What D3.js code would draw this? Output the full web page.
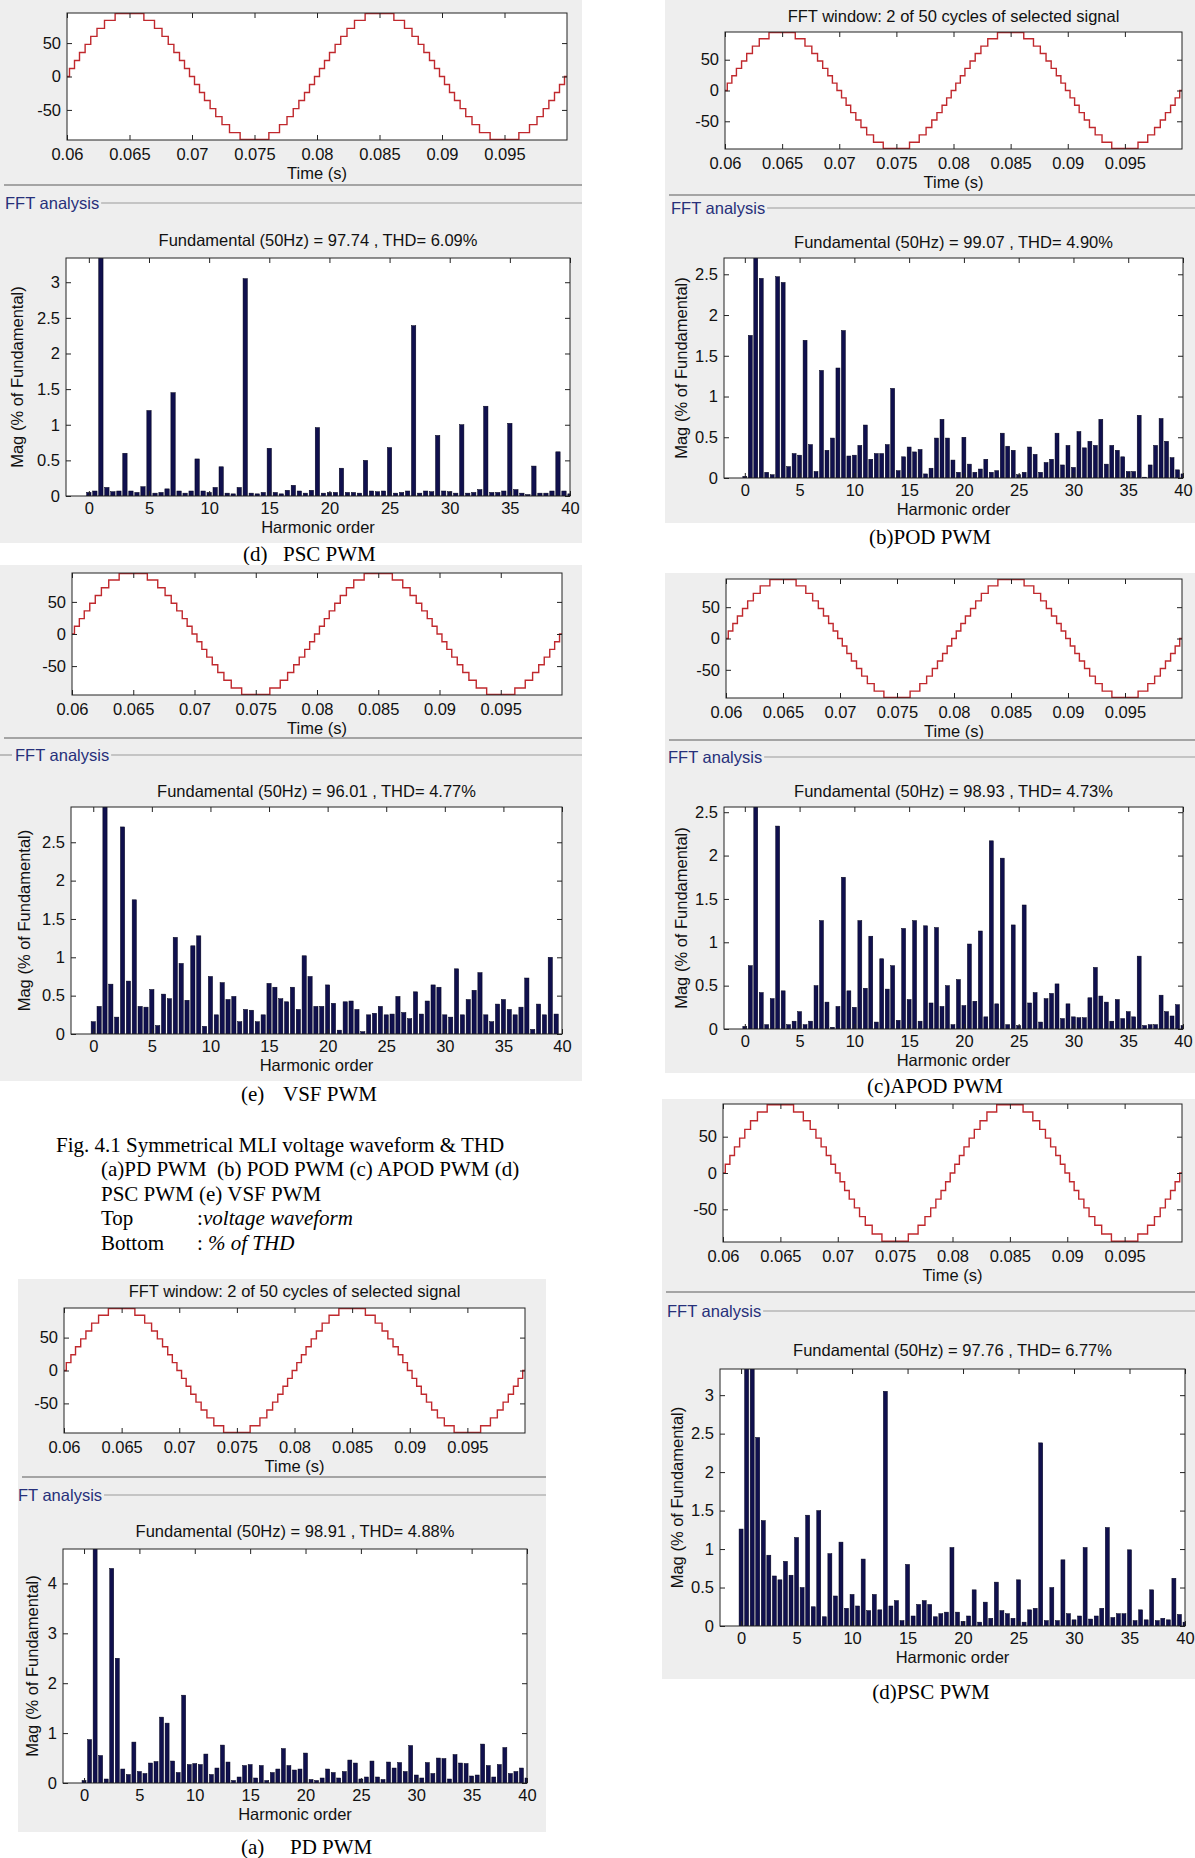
<!DOCTYPE html>
<html>
<head>
<meta charset="utf-8">
<script src="https://cdn.jsdelivr.net/npm/d3@7"></script>
<style>
  body { margin: 0; background: #fff; }
  svg { display: block; }
  .tick text { font-family: "Liberation Sans", Arial, sans-serif; font-size: 16.5px; fill: #111; }
  .lbl { font-family: "Liberation Sans", Arial, sans-serif; font-size: 16.5px; fill: #111; }
  .serif { font-family: "Liberation Serif", "Times New Roman", serif; font-size: 21px; fill: #000; }
</style>
</head>
<body>
<svg id="fig" width="1195" height="1858"></svg>
<script>
// harmonic orders on the FFT x axis (0, 0.5, 1 ... 40)
const harmonicOrder = [0,0.5,1,1.5,2,2.5,3,3.5,4,4.5,5,5.5,6,6.5,7,7.5,8,8.5,9,9.5,10,10.5,11,11.5,12,12.5,13,13.5,14,14.5,15,15.5,16,16.5,17,17.5,18,18.5,19,19.5,20,20.5,21,21.5,22,22.5,23,23.5,24,24.5,25,25.5,26,26.5,27,27.5,28,28.5,29,29.5,30,30.5,31,31.5,32,32.5,33,33.5,34,34.5,35,35.5,36,36.5,37,37.5,38,38.5,39,39.5,40];

// Mag (% of Fundamental), one value per harmonic order; harmonic 1 is the fundamental (clipped)
const magPscTop = [0.05,0.07,100,0.12,0.06,0.07,0.60,0.07,0.05,0.13,
  1.20,0.04,0.05,0.10,1.45,0.07,0.04,0.07,0.52,0.07,
  0.05,0.12,0.41,0.04,0.03,0.12,3.05,0.04,0.03,0.05,
  0.67,0.05,0.03,0.08,0.15,0.07,0.04,0.08,0.96,0.04,
  0.05,0.05,0.39,0.05,0.05,0.04,0.50,0.07,0.06,0.07,
  0.68,0.04,0.05,0.07,2.39,0.04,0.07,0.06,0.85,0.07,
  0.06,0.04,1.00,0.04,0.05,0.09,1.26,0.05,0.05,0.07,
  1.02,0.09,0.04,0.02,0.42,0.04,0.04,0.07,0.62,0.07,0.03];
const magPod = [0.02,1.75,100,2.45,0.07,0.04,2.47,2.40,0.14,0.30,
  0.28,1.69,0.41,0.08,1.32,0.34,0.49,1.35,1.81,0.27,
  0.28,0.40,0.65,0.23,0.30,0.30,0.41,1.10,0.09,0.26,
  0.38,0.32,0.35,0.05,0.12,0.49,0.72,0.49,0.22,0.07,
  0.50,0.17,0.07,0.11,0.23,0.07,0.09,0.55,0.39,0.34,
  0.04,0.07,0.38,0.29,0.07,0.19,0.23,0.55,0.16,0.40,
  0.13,0.57,0.37,0.45,0.40,0.72,0.17,0.40,0.34,0.26,
  0.08,0.08,0.77,0.01,0.16,0.40,0.73,0.45,0.25,0.10,0.05];
const magVsf = [0.16,0.36,100,0.65,0.22,2.70,0.69,1.75,0.36,0.35,
  0.58,0.11,0.52,0.46,1.26,0.92,0.44,1.15,1.28,0.10,
  0.75,0.25,0.67,0.45,0.49,0.16,0.32,0.31,0.16,0.25,
  0.66,0.61,0.46,0.42,0.61,0.32,1.02,0.75,0.36,0.36,
  0.64,0.40,0.05,0.42,0.43,0.32,0.03,0.25,0.27,0.36,
  0.25,0.26,0.49,0.28,0.20,0.55,0.26,0.43,0.64,0.61,
  0.25,0.22,0.85,0.25,0.45,0.57,0.80,0.25,0.16,0.39,
  0.45,0.32,0.25,0.35,0.73,0.06,0.39,0.25,1.00,0.26,0.00];
const magApod = [0.03,0.73,100,0.42,0.05,0.35,2.34,0.44,0.05,0.09,
  0.20,0.05,0.09,0.50,1.25,0.31,0.02,0.26,1.75,0.44,
  0.25,1.25,0.47,1.07,0.08,0.81,0.46,0.73,0.10,1.16,
  0.34,1.25,0.09,1.19,0.30,1.17,0.26,0.50,0.05,0.57,
  0.27,0.98,0.32,1.13,0.14,2.17,0.29,1.97,0.05,1.20,
  0.04,1.43,0.30,0.42,0.08,0.35,0.41,0.52,0.12,0.29,
  0.14,0.13,0.13,0.36,0.71,0.38,0.31,0.09,0.34,0.12,
  0.20,0.14,0.84,0.04,0.05,0.05,0.39,0.20,0.15,0.28,0.04];
const magPd = [0.05,0.87,100,0.55,0.08,4.30,2.50,0.28,0.17,0.82,
  0.23,0.19,0.40,0.43,1.32,1.20,0.44,0.21,1.76,0.37,
  0.39,0.37,0.58,0.17,0.30,0.76,0.42,0.05,0.12,0.35,
  0.37,0.10,0.35,0.05,0.21,0.28,0.69,0.35,0.26,0.28,
  0.60,0.07,0.05,0.10,0.28,0.21,0.10,0.23,0.46,0.40,
  0.08,0.12,0.44,0.12,0.07,0.42,0.30,0.41,0.23,0.75,
  0.16,0.10,0.41,0.19,0.50,0.49,0.08,0.57,0.40,0.39,
  0.14,0.16,0.78,0.35,0.12,0.37,0.71,0.19,0.23,0.30,0.10];
const magPscBottom = [1.26,3.50,100,2.45,1.37,0.92,0.65,0.60,0.84,0.66,
  1.15,0.50,1.44,0.25,1.50,0.12,0.94,0.39,1.09,0.23,
  0.41,0.26,0.87,0.20,0.41,0.21,3.05,0.26,0.33,0.07,
  0.80,0.13,0.28,0.33,0.28,0.12,0.16,0.18,1.02,0.18,
  0.06,0.13,0.47,0.05,0.31,0.10,0.57,0.20,0.16,0.10,
  0.60,0.05,0.21,0.23,2.38,0.07,0.50,0.07,0.86,0.16,
  0.08,0.13,1.02,0.09,0.13,0.23,1.28,0.11,0.16,0.16,
  0.99,0.07,0.21,0.08,0.47,0.07,0.10,0.08,0.62,0.15,0.05];

const fundTitles = [
  "Fundamental (50Hz) = 97.74 , THD= 6.09%",
  "Fundamental (50Hz) = 99.07 , THD= 4.90%",
  "Fundamental (50Hz) = 96.01 , THD= 4.77%",
  "Fundamental (50Hz) = 98.93 , THD= 4.73%",
  "Fundamental (50Hz) = 98.91 , THD= 4.88%",
  "Fundamental (50Hz) = 97.76 , THD= 6.77%"
];

// staircase output voltage (switching instant, level after it)
const waveTime = [0.06,0.0602,0.0606,0.0610,0.06145,0.0619,0.0624,0.0630,0.06385,
  0.06615,0.0670,0.0676,0.0681,0.06855,0.0690,0.0694,0.0698,
  0.0702,0.0706,0.0710,0.07145,0.0719,0.0724,0.0730,0.07385,
  0.07615,0.0770,0.0776,0.0781,0.07855,0.0790,0.0794,0.0798,
  0.0802,0.0806,0.0810,0.08145,0.0819,0.0824,0.0830,0.08385,
  0.08615,0.0870,0.0876,0.0881,0.08855,0.0890,0.0894,0.0898,
  0.0902,0.0906,0.0910,0.09145,0.0919,0.0924,0.0930,0.09385,
  0.09615,0.0970,0.0976,0.0981,0.09855,0.0990,0.0994,0.0998,0.1];
const waveLevel = [0,12,24,36,48,60,72,84,94,
  84,72,60,48,36,24,12,0,
  -12,-24,-36,-48,-60,-72,-84,-94,
  -84,-72,-60,-48,-36,-24,-12,0,
  12,24,36,48,60,72,84,94,
  84,72,60,48,36,24,12,0,
  -12,-24,-36,-48,-60,-72,-84,-94,
  -84,-72,-60,-48,-36,-24,-12,0,0];

const timeTicks = [0.06,0.065,0.07,0.075,0.08,0.085,0.09,0.095];
const voltTicks = [-50,0,50];
const harmTicks = [0,5,10,15,20,25,30,35,40];
const magTicksHalf3 = [0,0.5,1,1.5,2,2.5,3];
const magTicksHalf25 = [0,0.5,1,1.5,2,2.5];
const magTicksInt4 = [0,1,2,3,4];

const windowTitle = "FFT window: 2 of 50 cycles of selected signal";

// layout of the six screenshots
const panels = [
  { key: "p1", mag: magPscTop, title: fundTitles[0], ymax: 3.34, yTicks: magTicksHalf3,
    box: [0, 0, 582, 543], wave: { l: 67, r: 567, t: 13, b: 140 }, sep: 185, head: null,
    lab: { x: 5, y: 203, text: "FFT analysis", lead: false },
    fft: { l: 66, r: 570, t: 258, b: 496 }, titleY: 240, ylabOff: 49,
    caption: [["(d)", 243, "start"], ["PSC PWM", 283, "start"]], capY: 554 },
  { key: "p2", mag: magPod, title: fundTitles[1], ymax: 2.70, yTicks: magTicksHalf25,
    box: [665, 0, 1195, 523], wave: { l: 725, r: 1182, t: 32, b: 149 }, sep: 195, head: 16,
    lab: { x: 671, y: 208, text: "FFT analysis", lead: false },
    fft: { l: 724, r: 1183, t: 258, b: 478 }, titleY: 242, ylabOff: 43,
    caption: [["(b)POD PWM", 930, "middle"]], capY: 537 },
  { key: "p3", mag: magVsf, title: fundTitles[2], ymax: 2.96, yTicks: magTicksHalf25,
    box: [0, 565, 582, 1081], wave: { l: 72, r: 562, t: 573, b: 695 }, sep: 738, head: null,
    lab: { x: 15, y: 755, text: "FFT analysis", lead: true },
    fft: { l: 71, r: 562, t: 807, b: 1034 }, titleY: 791, ylabOff: 47,
    caption: [["(e)", 241, "start"], ["VSF PWM", 283, "start"]], capY: 1094 },
  { key: "p4", mag: magApod, title: fundTitles[3], ymax: 2.56, yTicks: magTicksHalf25,
    box: [665, 573, 1195, 1073], wave: { l: 726, r: 1182, t: 579, b: 698 }, sep: 740, head: null,
    lab: { x: 668, y: 757, text: "FFT analysis", lead: false },
    fft: { l: 724, r: 1183, t: 807, b: 1029 }, titleY: 791, ylabOff: 43,
    caption: [["(c)APOD PWM", 935, "middle"]], capY: 1086 },
  { key: "p5", mag: magPd, title: fundTitles[4], ymax: 4.69, yTicks: magTicksInt4,
    box: [18, 1279, 546, 1832], wave: { l: 64, r: 525, t: 1308, b: 1433 }, sep: 1477, head: 1291,
    lab: { x: 18, y: 1495, text: "FT analysis", lead: false },
    fft: { l: 63, r: 527, t: 1549, b: 1783 }, titleY: 1531, ylabOff: 31,
    caption: [["(a)", 241, "start"], ["PD PWM", 290, "start"]], capY: 1847 },
  { key: "p6", mag: magPscBottom, title: fundTitles[5], ymax: 3.34, yTicks: magTicksHalf3,
    box: [662, 1099, 1195, 1679], wave: { l: 723, r: 1182, t: 1104, b: 1242 }, sep: 1292, head: null,
    lab: { x: 667, y: 1311, text: "FFT analysis", lead: false },
    fft: { l: 720, r: 1185, t: 1369, b: 1626 }, titleY: 1350, ylabOff: 43,
    caption: [["(d)PSC PWM", 931, "middle"]], capY: 1692 }
];

const svg = d3.select("#fig");
const defs = svg.append("defs");
const barW = 0.36;   // bar width in harmonic units

function frame(g, x, y, b, xTicks, yTicks, xFmt, yFmt, padX, padY) {
  const len = 5;
  g.append("g").attr("transform", `translate(0,${b.b})`)
    .call(d3.axisBottom(x).tickValues(xTicks).tickFormat(xFmt).tickSizeInner(-len).tickSizeOuter(0).tickPadding(padX));
  g.append("g").attr("transform", `translate(0,${b.t})`)
    .call(d3.axisTop(x).tickValues(xTicks).tickFormat("").tickSizeInner(-len).tickSizeOuter(0));
  g.append("g").attr("transform", `translate(${b.l},0)`)
    .call(d3.axisLeft(y).tickValues(yTicks).tickFormat(yFmt).tickSizeInner(-len).tickSizeOuter(0).tickPadding(padY));
  g.append("g").attr("transform", `translate(${b.r},0)`)
    .call(d3.axisRight(y).tickValues(yTicks).tickFormat("").tickSizeInner(-len).tickSizeOuter(0));
  g.selectAll(".domain").remove();
  g.selectAll(".tick line").attr("stroke", "#222");
  g.append("rect")
    .attr("x", b.l).attr("y", b.t).attr("width", b.r - b.l).attr("height", b.b - b.t)
    .attr("fill", "none").attr("stroke", "#222").attr("stroke-width", 1);
}

function clipRect(id, b) {
  defs.append("clipPath").attr("id", id).append("rect")
    .attr("x", b.l).attr("y", b.t).attr("width", b.r - b.l).attr("height", b.b - b.t);
}

panels.forEach(p => {
  const [bx0, by0, bx1, by1] = p.box;
  const g = svg.append("g");

  // grey figure window background
  g.append("rect").attr("x", bx0).attr("y", by0).attr("width", bx1 - bx0).attr("height", by1 - by0)
    .attr("fill", "#eeeeee");

  // ---- time waveform ----
  const w = p.wave;
  const xt = d3.scaleLinear().domain([0.06, 0.1]).range([w.l, w.r]);
  const yv = d3.scaleLinear().domain([-95, 95]).range([w.b, w.t]);
  g.append("rect").attr("x", w.l).attr("y", w.t).attr("width", w.r - w.l).attr("height", w.b - w.t)
    .attr("fill", "#fff");
  clipRect("cw-" + p.key, w);
  const line = d3.line().x(d => xt(d[0])).y(d => yv(d[1])).curve(d3.curveStepAfter);
  g.append("path").datum(d3.zip(waveTime, waveLevel))
    .attr("clip-path", `url(#cw-${p.key})`)
    .attr("d", line).attr("fill", "none").attr("stroke", "#c0282d").attr("stroke-width", 1.4);
  frame(g.append("g"), xt, yv, w, timeTicks, voltTicks, d => String(+d.toFixed(3)), d => String(d), 8, 6);
  g.append("text").attr("class", "lbl").attr("x", (w.l + w.r) / 2).attr("y", w.b + 33)
    .attr("text-anchor", "middle").attr("dominant-baseline", "central").text("Time (s)");
  if (p.head !== null) {
    g.append("text").attr("class", "lbl").attr("x", (w.l + w.r) / 2).attr("y", p.head)
      .attr("text-anchor", "middle").attr("dominant-baseline", "central").text(windowTitle);
  }

  // separator between the two sections
  g.append("line").attr("x1", bx0 + 4).attr("x2", bx1).attr("y1", p.sep).attr("y2", p.sep)
    .attr("stroke", "#a4a4a4").attr("stroke-width", 2);

  // "FFT analysis" group label with its rule
  const lab = g.append("text").attr("class", "lbl").attr("x", p.lab.x).attr("y", p.lab.y)
    .attr("dominant-baseline", "central").style("fill", "#27307a")
    .text(p.lab.text);
  const labEnd = p.lab.x + lab.node().getComputedTextLength();
  g.append("line").attr("x1", labEnd + 2).attr("x2", bx1).attr("y1", p.lab.y).attr("y2", p.lab.y)
    .attr("stroke", "#9a9a9a").attr("stroke-width", 1.2);
  if (p.lab.lead) {
    g.append("line").attr("x1", bx0).attr("x2", p.lab.x - 3).attr("y1", p.lab.y).attr("y2", p.lab.y)
      .attr("stroke", "#9a9a9a").attr("stroke-width", 1.2);
  }

  // ---- harmonic spectrum ----
  const f = p.fft;
  const xh = d3.scaleLinear().domain([-1.9, 40]).range([f.l, f.r]);
  const ym = d3.scaleLinear().domain([0, p.ymax]).range([f.b, f.t]);
  g.append("rect").attr("x", f.l).attr("y", f.t).attr("width", f.r - f.l).attr("height", f.b - f.t)
    .attr("fill", "#fff");
  clipRect("cf-" + p.key, f);
  g.append("g").attr("clip-path", `url(#cf-${p.key})`)
    .selectAll("rect")
    .data(harmonicOrder.map((h, i) => ({ h: h, v: p.mag[i] })))
    .join("rect")
    .attr("x", d => xh(d.h - barW / 2))
    .attr("width", xh(barW) - xh(0))
    .attr("y", d => ym(d.v))
    .attr("height", d => ym(0) - ym(d.v))
    .attr("fill", "#10104e").attr("stroke", "#000018").attr("stroke-width", 0.5);
  frame(g.append("g"), xh, ym, f, harmTicks, p.yTicks, d => String(d), d => String(d), 6, 6);
  g.append("text").attr("class", "lbl").attr("x", (f.l + f.r) / 2).attr("y", p.titleY)
    .attr("text-anchor", "middle").attr("dominant-baseline", "central").text(p.title);
  g.append("text").attr("class", "lbl").attr("x", (f.l + f.r) / 2).attr("y", f.b + 31)
    .attr("text-anchor", "middle").attr("dominant-baseline", "central").text("Harmonic order");
  g.append("text").attr("class", "lbl")
    .attr("transform", `translate(${f.l - p.ylabOff},${(f.t + f.b) / 2}) rotate(-90)`)
    .attr("text-anchor", "middle").attr("dominant-baseline", "central").text("Mag (% of Fundamental)");

  // caption under the screenshot
  p.caption.forEach(([txt, cx, anchor]) => {
    svg.append("text").attr("class", "serif").attr("x", cx).attr("y", p.capY)
      .attr("text-anchor", anchor).attr("dominant-baseline", "central").text(txt);
  });
});

// figure caption
const capLines = [
  { y: 1145, parts: [["Fig. 4.1 Symmetrical MLI voltage waveform & THD", 56, false]] },
  { y: 1169, parts: [["(a)PD PWM\u00a0 (b) POD PWM (c) APOD PWM (d)", 101, false]] },
  { y: 1194, parts: [["PSC PWM (e) VSF PWM", 101, false]] },
  { y: 1218, parts: [["Top", 101, false], [":", 197, false], ["voltage waveform", 203, true]] },
  { y: 1243, parts: [["Bottom", 101, false], [": ", 197, false], ["% of THD", 208, true]] }
];
capLines.forEach(l => {
  l.parts.forEach(([txt, x, it]) => {
    svg.append("text").attr("class", "serif").attr("x", x).attr("y", l.y)
      .attr("dominant-baseline", "central").style("font-style", it ? "italic" : "normal").text(txt);
  });
});
</script>
</body>
</html>
